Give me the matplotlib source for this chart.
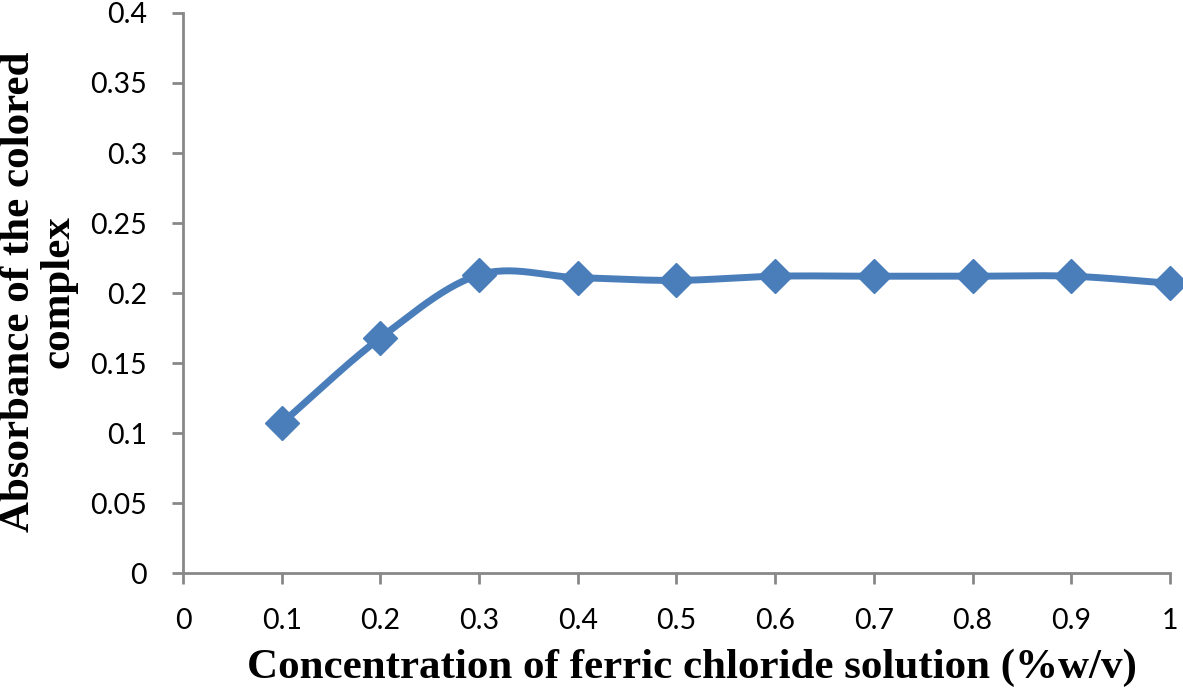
import numpy as np
import matplotlib
matplotlib.use("Agg")
import matplotlib.pyplot as plt

conc = [0.1, 0.2, 0.3, 0.4, 0.5, 0.6, 0.7, 0.8, 0.9, 1.0]
absorbance = [0.107, 0.168, 0.213, 0.211, 0.209, 0.212, 0.212, 0.212, 0.212, 0.207]
xticks = [0, 0.1, 0.2, 0.3, 0.4, 0.5, 0.6, 0.7, 0.8, 0.9, 1]
yticks = [0, 0.05, 0.1, 0.15, 0.2, 0.25, 0.3, 0.35, 0.4]
xlabel = "Concentration of ferric chloride solution (%w/v)"
ylabel = "Absorbance of the colored\ncomplex"

def smooth(xs, ys, n=30):
    # Excel-style smoothed line (Catmull-Rom through the points)
    xs = np.asarray(xs, float); ys = np.asarray(ys, float)
    P = np.column_stack([xs, ys])
    P = np.vstack([P[0] - (P[1] - P[0]), P, P[-1] + (P[-1] - P[-2])])
    out = []
    for i in range(1, len(P) - 2):
        p0, p1, p2, p3 = P[i - 1], P[i], P[i + 1], P[i + 2]
        t = np.linspace(0, 1, n)[:, None]
        seg = 0.5 * ((2 * p1) + (-p0 + p2) * t + (2 * p0 - 5 * p1 + 4 * p2 - p3) * t**2
                     + (-p0 + 3 * p1 - 3 * p2 + p3) * t**3)
        out.append(seg)
    out = np.vstack(out)
    return out[:, 0], out[:, 1]

fig = plt.figure(figsize=(11.83, 6.98), dpi=100)
ax = fig.add_axes([0.1547, 0.179, 0.8343, 0.8024])
color = "#4A7EBB"
sx, sy = smooth(conc, absorbance)
ax.plot(sx, sy, color=color, lw=5, solid_capstyle="round", zorder=2, clip_on=False)
ax.plot(conc, absorbance, linestyle="none", marker="D", markersize=17, color=color,
        zorder=3, clip_on=False)

ax.set_xlim(0, 1)
ax.set_ylim(0, 0.4)
ax.set_xticks(xticks)
ax.set_xticklabels([f"{v:g}" for v in xticks])
ax.set_yticks(yticks)
ax.set_yticklabels([f"{v:g}" for v in yticks])
for s in ["top", "right"]:
    ax.spines[s].set_visible(False)
for s in ["left", "bottom"]:
    ax.spines[s].set_color("#888888")
    ax.spines[s].set_linewidth(2)
ax.tick_params(axis="both", colors="#888888", width=2, length=8, direction="out",
               labelcolor="black", labelsize=20.5)
ax.tick_params(axis="x", pad=17)
ax.tick_params(axis="y", pad=18)
for lab in ax.get_xticklabels() + ax.get_yticklabels():
    lab.set_family(["Lato", "DejaVu Sans"])

fig.text(0.585, 0.043, xlabel, fontsize=31, fontweight="bold", family="Liberation Serif",
         ha="center", va="center")
fig.text(0.0325, 0.582, ylabel, fontsize=31, fontweight="bold", family="Liberation Serif",
         ha="center", va="center", rotation=90, multialignment="center", linespacing=1.05)

fig.savefig("out.png", dpi=100)
